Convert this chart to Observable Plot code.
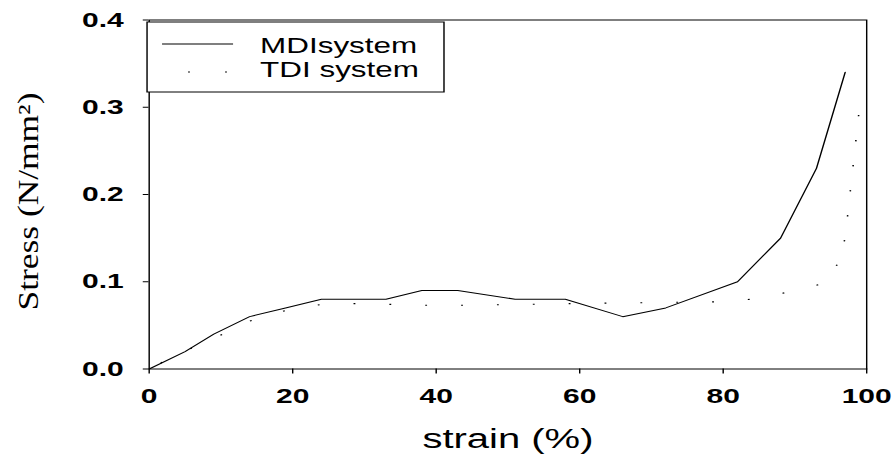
<!DOCTYPE html>
<html><head><meta charset="utf-8">
<script src="https://cdn.jsdelivr.net/npm/d3@7"></script>
<script src="https://cdn.jsdelivr.net/npm/@observablehq/plot@0.6"></script>
<style>
html,body{margin:0;padding:0;background:#fff;}
#wrap{position:relative;width:627px;height:457px;transform:scaleX(1.429);transform-origin:0 0;}
#wrap svg{display:block;}
#legend{position:absolute;left:0;top:0;pointer-events:none;}
</style></head><body><div id="wrap"></div>
<script>
// MDI system (solid line)
const strainMDI = [0, 5, 9, 14, 19, 24, 33, 38, 43, 51, 58, 66, 72, 82, 88, 93, 97];
const stressMDI = [0, 0.02, 0.04, 0.06, 0.07, 0.08, 0.08, 0.09, 0.09, 0.08, 0.08, 0.06, 0.07, 0.10, 0.15, 0.23, 0.34];
// TDI system (dotted line)
const strainTDI = [0, 4, 9, 14, 19, 24, 29, 39, 44, 59, 79, 84, 89, 94, 96, 97, 99];
const stressTDI = [0, 0.017, 0.035, 0.055, 0.067, 0.074, 0.075, 0.073, 0.073, 0.075, 0.077, 0.080, 0.088, 0.098, 0.121, 0.150, 0.300];
const xTicks = [0, 20, 40, 60, 80, 100];
const yTicks = [0, 0.1, 0.2, 0.3, 0.4];
const seriesNames = ["MDIsystem", "TDI system"];
const xLabel = "strain (%)";
const yLabel = "Stress (N/mm\u00B2)";

const mdi = strainMDI.map((x, i) => ({x, y: stressMDI[i]}));
const tdi = strainTDI.map((x, i) => ({x, y: stressTDI[i]}));
const DASH = "1.3,23.8";
const DASHOFF = 15.0;

const chart = Plot.plot({
  width: 627, height: 457,
  marginLeft: 103.9, marginRight: 21, marginTop: 19.5, marginBottom: 88.5,
  style: {fontFamily: "'Liberation Sans', Arial, sans-serif", fontSize: "21px", fontWeight: "bold", color: "#000", background: "#fff"},
  x: {domain: [0, 100], ticks: xTicks, tickSize: 5, tickPadding: 14.5, label: null, tickFormat: d3.format("d")},
  y: {domain: [0, 0.4], ticks: yTicks, tickSize: 4, tickPadding: 13.8, label: null, tickFormat: d3.format(".1f")},
  marks: [
    Plot.frame({stroke: "#000"}),
    Plot.line(mdi, {x: "x", y: "y", stroke: "#000", strokeWidth: 1}),
    Plot.line(tdi, {x: "x", y: "y", stroke: "#000", strokeWidth: 1.1, strokeDasharray: DASH, strokeDashoffset: DASHOFF, strokeLinecap: "butt"}),
    Plot.text([xLabel], {text: d => d, frameAnchor: "bottom", dy: 70.5, fontSize: 28, fontWeight: "normal", lineAnchor: "middle"}),
    Plot.text([yLabel], {text: d => d, frameAnchor: "left", rotate: -90, dx: -84.4, dy: 116, textAnchor: "start", fontSize: 20, fontWeight: "normal", fontFamily: "'Liberation Serif', 'Times New Roman', serif", lineAnchor: "middle"})
  ]
});
const wrap = document.getElementById("wrap");
wrap.appendChild(chart);
chart.querySelectorAll("text").forEach(t => {
  if (t.textContent === yLabel) {
    t.setAttribute("textLength", 218);
    t.setAttribute("lengthAdjust", "spacingAndGlyphs");
  }
});

// legend overlay
const leg = d3.select(wrap).append("svg").attr("id", "legend").attr("width", 627).attr("height", 457);
leg.append("rect").attr("x", 102.9).attr("y", 22).attr("width", 207.8).attr("height", 70)
  .attr("fill", "#fff").attr("stroke", "#000").attr("stroke-width", 1);
const rows = seriesNames.map((name, i) => ({name, i}));
const g = leg.selectAll("g.row").data(rows).join("g").attr("class", "row");
g.append("line").attr("x1", 113.4).attr("x2", 163.1)
  .attr("y1", d => d.i === 0 ? 44 : 72).attr("y2", d => d.i === 0 ? 44 : 72)
  .attr("stroke", "#000").attr("stroke-width", d => d.i === 0 ? 1 : 1.1)
  .attr("stroke-dasharray", d => d.i === 0 ? null : "1.3,24.6")
  .attr("stroke-dashoffset", d => d.i === 0 ? null : 7.7);
g.append("text").attr("x", 182).attr("y", d => d.i === 0 ? 53 : 77.5)
  .attr("font-family", "'Liberation Sans', Arial, sans-serif").attr("font-size", 22)
  .attr("fill", "#000").text(d => d.name);
</script></body></html>
